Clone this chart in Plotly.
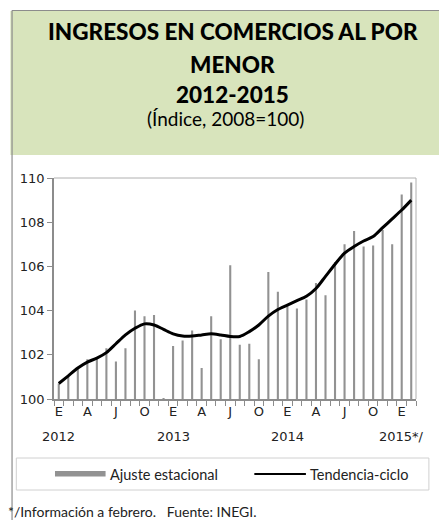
import plotly.graph_objects as go

# ---------------- data ----------------
years = [2012, 2013, 2014, 2015]
month_letters = ["E", "F", "M", "A", "M", "J", "J", "A", "S", "O", "N", "D"]
n_months = 38  # Jan 2012 .. Feb 2015

categories = []
for y in years:
    for m in range(12):
        if len(categories) < n_months:
            categories.append(f"{y}-{m + 1:02d}")

ajuste_estacional = [
    100.7, 101.0, 101.4, 101.8, 101.8, 102.3, 101.7, 102.3, 104.0, 103.75, 103.8, 100.05,
    102.4, 102.65, 103.1, 101.4, 103.75, 102.7, 106.05, 102.45, 102.5, 101.8, 105.75, 104.85,
    104.2, 104.1, 104.5, 105.25, 104.7, 106.2, 107.0, 107.6, 106.9, 106.95, 107.65, 107.0,
    109.25, 109.8,
]
tendencia_ciclo = [
    100.7, 101.05, 101.4, 101.67, 101.85, 102.1, 102.5, 102.9, 103.2, 103.4, 103.35, 103.15,
    102.95, 102.85, 102.85, 102.9, 102.95, 102.9, 102.83, 102.83, 103.05, 103.35, 103.75, 104.05,
    104.25, 104.45, 104.65, 105.0, 105.55, 106.1, 106.6, 106.9, 107.15, 107.35, 107.75, 108.15,
    108.55, 109.0,
]
tick_text = [month_letters[i % 12] if i % 3 == 0 else "" for i in range(n_months)]
year_labels = ["2012", "2013", "2014", "2015*/"]
year_label_idx = [0, 12, 24, 36]

title_lines = ["INGRESOS EN COMERCIOS AL POR", "MENOR", "2012-2015"]
subtitle = "(Índice, 2008=100)"
legend_names = ["Ajuste estacional", "Tendencia-ciclo"]
footnote = "*/Información a febrero.   Fuente: INEGI."

# ---------------- layout helpers ----------------
OFF = 8  # default page body margin
W, H = 447 - OFF, 512
L, R, T, B = 51, 416, 178, 399  # plot area in screen pixels


def px(x):
    return (x - L) / (R - L)


def py(y):
    return (B - y) / (B - T)


fig = go.Figure()
fig.add_trace(go.Bar(x=categories, y=ajuste_estacional, width=0.22,
                     marker=dict(color="#929292", line=dict(width=0)),
                     name=legend_names[0], showlegend=False))
fig.add_trace(go.Scatter(x=categories, y=tendencia_ciclo, mode="lines",
                         line=dict(color="black", width=3, shape="spline", smoothing=0.8),
                         name=legend_names[1], showlegend=False))

shapes = []
# green title box
shapes.append(dict(type="rect", xref="paper", yref="paper", x0=px(7), x1=px(460), y0=py(155), y1=py(11),
                   fillcolor="#d8e4bc", line=dict(width=0), layer="below"))
# outer frame lines (top and left)
shapes.append(dict(type="line", xref="paper", yref="paper", x0=px(8.6), x1=px(460), y0=py(10.5), y1=py(10.5),
                   line=dict(color="#8c8c8c", width=1.2)))
shapes.append(dict(type="line", xref="paper", yref="paper", x0=px(8.7), x1=px(8.7), y0=py(10.5), y1=py(560),
                   line=dict(color="#8c8c8c", width=1.2)))
# plot area border (top, right)
shapes.append(dict(type="line", xref="paper", yref="paper", x0=0, x1=1, y0=1, y1=1,
                   line=dict(color="#b0b0b0", width=1)))
shapes.append(dict(type="line", xref="paper", yref="paper", x0=1, x1=1, y0=0, y1=1,
                   line=dict(color="#b0b0b0", width=1)))
# legend box
shapes.append(dict(type="rect", xref="paper", yref="paper", x0=px(13), x1=px(429), y0=py(490), y1=py(458),
                   fillcolor="rgba(0,0,0,0)", line=dict(color="#d0d0d0", width=1)))
# legend symbols
shapes.append(dict(type="rect", xref="paper", yref="paper", x0=px(52), x1=px(103), y0=py(476.5), y1=py(471),
                   fillcolor="#929292", line=dict(width=0)))
shapes.append(dict(type="line", xref="paper", yref="paper", x0=px(253), x1=px(305), y0=py(474), y1=py(474),
                   line=dict(color="black", width=2)))

annotations = []
title_font = dict(family="Lato", size=22.5, color="black", weight=900)
title_y = [32, 64, 94]
for line, ty in zip(title_lines, title_y):
    annotations.append(dict(text=line, xref="paper", yref="paper", x=px(231), y=py(ty),
                            xanchor="center", yanchor="middle", showarrow=False, font=title_font))
annotations.append(dict(text=subtitle, xref="paper", yref="paper", x=px(224), y=py(118),
                        xanchor="center", yanchor="middle", showarrow=False,
                        font=dict(family="Lato", size=19, color="black")))
for idx, lab in zip(year_label_idx, year_labels):
    annotations.append(dict(text=lab, xref="x", yref="paper", x=categories[idx], y=py(436),
                            xanchor="center", yanchor="middle", showarrow=False,
                            font=dict(family="DejaVu Sans", size=13, color="#222")))
annotations.append(dict(text=legend_names[0], xref="paper", yref="paper", x=px(105), y=py(474),
                        xanchor="left", yanchor="middle", showarrow=False,
                        font=dict(family="Lato", size=14.5, color="#222")))
annotations.append(dict(text=legend_names[1], xref="paper", yref="paper", x=px(307), y=py(474),
                        xanchor="left", yanchor="middle", showarrow=False,
                        font=dict(family="Lato", size=14.5, color="#222")))
annotations.append(dict(text=footnote, xref="paper", yref="paper", x=px(3), y=py(511),
                        xanchor="left", yanchor="middle", showarrow=False,
                        font=dict(family="Lato", size=14, color="#222")))

fig.update_layout(
    width=W, height=H,
    margin=dict(l=L - OFF, r=W - (R - OFF), t=T - OFF, b=H - (B - OFF), pad=0),
    paper_bgcolor="white", plot_bgcolor="white",
    shapes=shapes, annotations=annotations,
    xaxis=dict(type="category", tickmode="array", tickvals=categories, ticktext=tick_text,
               tickson="boundaries", ticks="outside", ticklen=5, tickcolor="#8c8c8c", tickwidth=1,
               tickangle=0,
               showline=True, linecolor="#8c8c8c", linewidth=1.5, showgrid=False,
               tickfont=dict(family="DejaVu Sans", size=13, color="#222"), range=[-0.5, n_months - 0.5]),
    yaxis=dict(range=[100, 110], dtick=2, ticks="outside", ticklen=5, tickcolor="#8c8c8c", tickwidth=1,
               showline=True, linecolor="#8c8c8c", linewidth=1.5, showgrid=False, zeroline=False,
               tickfont=dict(family="DejaVu Sans", size=13, color="#222")),
)

fig.write_html("out.html")
